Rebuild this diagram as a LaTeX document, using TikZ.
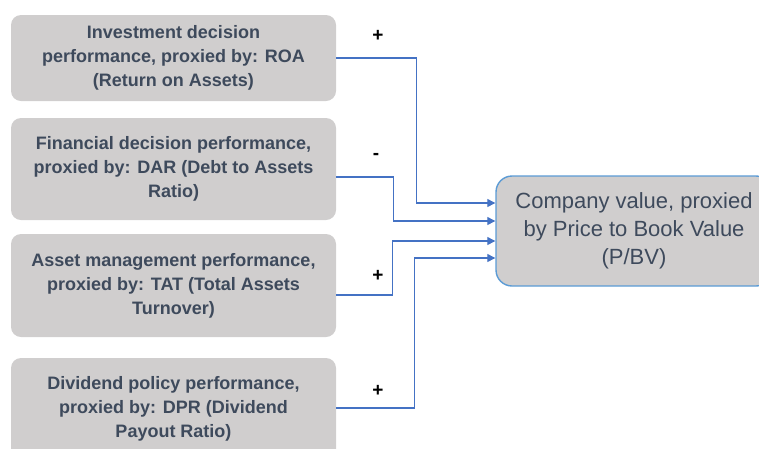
\documentclass[tikz,border=0pt]{standalone}
\usepackage{fontspec}
\setmainfont{Liberation Sans}
\usepackage{xcolor}
\usetikzlibrary{arrows.meta, positioning}

\definecolor{boxgray}{HTML}{D0CECE}
\definecolor{textslate}{HTML}{3E4A5C}
\definecolor{linkblue}{HTML}{4472C4}
\definecolor{rimblue}{HTML}{5B9BD5}

\begin{document}
\begin{tikzpicture}[
    x=1pt, y=-1pt,
    factor/.style={rectangle, fill=boxgray, rounded corners=10pt, minimum width=325pt, align=center, text=textslate, font=\fontsize{18}{24}\selectfont\bfseries},
    outcome/.style={rectangle, fill=boxgray, draw=rimblue, line width=1.4pt, rounded corners=16pt, minimum width=276pt, minimum height=110pt, align=center, text=textslate, font=\fontsize{22}{28}\selectfont},
    link/.style={-{Triangle[length=8pt,width=8pt]}, draw=linkblue, line width=1.3pt},
    sign/.style={font=\fontsize{19}{20}\selectfont\bfseries}
]
\useasboundingbox (0,0) rectangle (759,448);
\clip (0,0) rectangle (759,448);

\node[factor, minimum height=86pt] (inv) at (173.5,58) {Investment decision\\performance, proxied by: ROA\\(Return on Assets)};
\node[factor, minimum height=102pt] (fin) at (173.5,169) {Financial decision performance,\\proxied by: DAR (Debt to Assets\\Ratio)};
\node[factor, minimum height=103pt] (asset) at (173.5,285.5) {Asset management performance,\\proxied by: TAT (Total Assets\\Turnover)};
\node[factor, minimum height=102pt] (div) at (173.5,409) {Dividend policy performance,\\proxied by: DPR (Dividend\\Payout Ratio)};

\node[outcome] (value) at (634,231) {Company value, proxied\\by Price to Book Value\\(P/BV)};

% signs of the effects
\node[sign] (s1) at (378,36) {+};
\node[sign] (s2) at (376,156) {-};
\node[sign] (s3) at (378,276) {+};
\node[sign] (s4) at (378,391) {+};

\draw[link] (inv.east) -- ++(80,0) |- ([yshift=28pt]value.west);
\draw[link] ([yshift=-8pt]fin.east) -- ++(57,0) |- ([yshift=10pt]value.west);
\draw[link] ([yshift=-9.5pt]asset.east) -- ++(56,0) |- ([yshift=-10pt]value.west);
\draw[link] ([yshift=1pt]div.east) -- ++(78,0) |- ([yshift=-27pt]value.west);

\end{tikzpicture}
\end{document}
